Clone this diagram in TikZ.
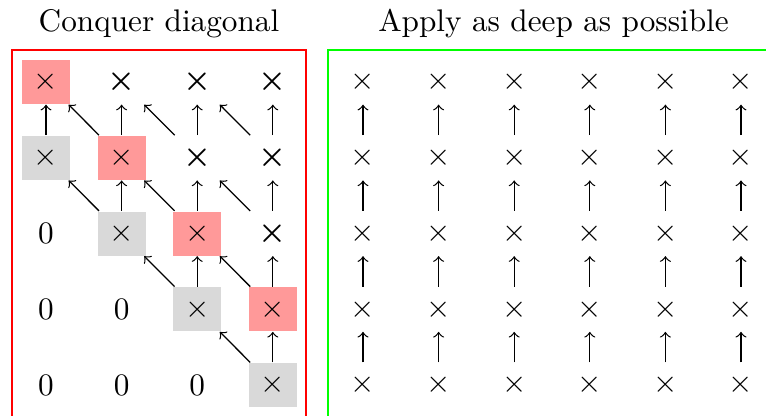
\documentclass[tikz,border=0pt]{standalone}
\usepackage{amsmath}
\begin{document}
\begin{tikzpicture}[x=0.32pt,y=-0.32pt,
  cell/.style={minimum width=15.36pt,minimum height=14.08pt,inner sep=0pt},
  pinkcell/.style={cell,fill=red!40},
  graycell/.style={cell,fill=black!15},
  arr/.style={->,line width=0.4pt},
  titletext/.style={anchor=base}]
\clip (0,0) rectangle (766,415);
\node[titletext] (t1) at (159,31) {Conquer diagonal};
\node[titletext] (t2) at (553.5,31) {Apply as deep as possible};
\draw[red,line width=0.7pt] (12,50) rectangle (306,440);
\draw[green,line width=0.7pt] (328,50) rectangle (790,440);
% left matrix
\def\cx#1{\ifcase#1 46\or 121.6\or 197.2\or 272.8\fi}
\def\ry#1{\ifcase#1 82\or 157.8\or 233.5\or 309.2\or 385\fi}
% row 0
\node[pinkcell] (L-0-0) at (\cx0,\ry0) {$\times$};
\node[cell] (L-0-1) at (\cx1,\ry0) {$\boldsymbol{\times}$};
\node[cell] (L-0-2) at (\cx2,\ry0) {$\boldsymbol{\times}$};
\node[cell] (L-0-3) at (\cx3,\ry0) {$\boldsymbol{\times}$};
% row 1
\node[graycell] (L-1-0) at (\cx0,\ry1) {$\times$};
\node[pinkcell] (L-1-1) at (\cx1,\ry1) {$\times$};
\node[cell] (L-1-2) at (\cx2,\ry1) {$\boldsymbol{\times}$};
\node[cell] (L-1-3) at (\cx3,\ry1) {$\boldsymbol{\times}$};
% row 2
\node[cell] (L-2-0) at (\cx0,\ry2) {$0$};
\node[graycell] (L-2-1) at (\cx1,\ry2) {$\times$};
\node[pinkcell] (L-2-2) at (\cx2,\ry2) {$\times$};
\node[cell] (L-2-3) at (\cx3,\ry2) {$\boldsymbol{\times}$};
% row 3
\node[cell] (L-3-0) at (\cx0,\ry3) {$0$};
\node[cell] (L-3-1) at (\cx1,\ry3) {$0$};
\node[graycell] (L-3-2) at (\cx2,\ry3) {$\times$};
\node[pinkcell] (L-3-3) at (\cx3,\ry3) {$\times$};
% row 4
\node[cell] (L-4-0) at (\cx0,\ry4) {$0$};
\node[cell] (L-4-1) at (\cx1,\ry4) {$0$};
\node[cell] (L-4-2) at (\cx2,\ry4) {$0$};
\node[graycell] (L-4-3) at (\cx3,\ry4) {$\times$};
% vertical arrows
\foreach \r/\p/\c in {1/0/0,1/0/1,1/0/2,1/0/3,2/1/1,2/1/2,2/1/3,3/2/2,3/2/3,4/3/3}
  \draw[arr] (L-\r-\c) -- (L-\p-\c);
% diagonal arrows
\foreach \r/\p/\c/\d in {1/0/1/0,1/0/2/1,1/0/3/2,2/1/1/0,2/1/2/1,2/1/3/2,3/2/2/1,3/2/3/2,4/3/3/2}
  \draw[arr] (L-\r-\c) -- (L-\p-\d);
% right matrix
\foreach \c in {0,...,5}{
  \foreach \r in {0,...,4}{
    \node[cell] (R-\r-\c) at ({363+75.6*\c},\ry\r) {$\times$};
  }
  \foreach \r/\p in {1/0,2/1,3/2,4/3}
    \draw[arr] (R-\r-\c) -- (R-\p-\c);
}
\end{tikzpicture}
\end{document}
